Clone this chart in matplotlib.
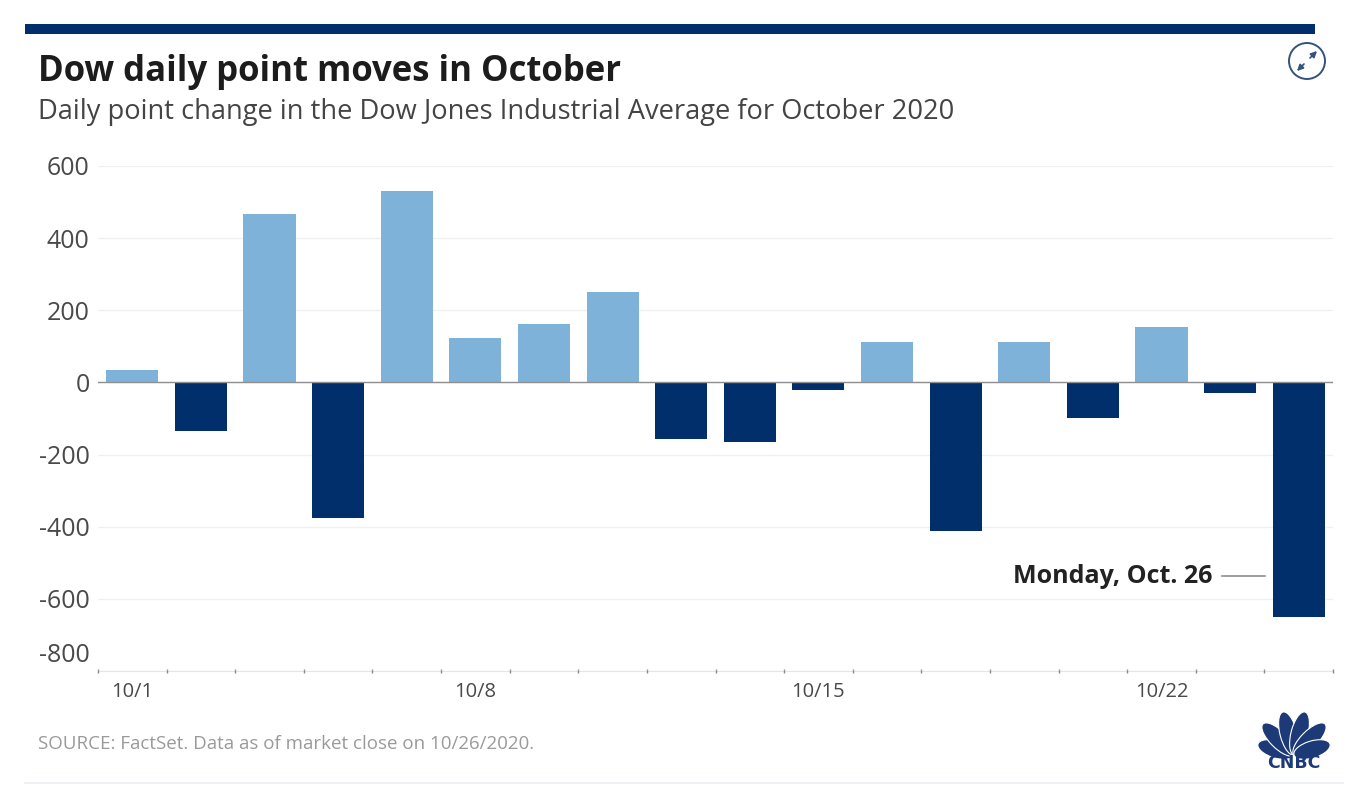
import math
import matplotlib
matplotlib.use('Agg')
import matplotlib.pyplot as plt
from matplotlib.patches import Circle, Ellipse, Rectangle
from matplotlib.transforms import ScaledTranslation

days = ['10/1', '10/2', '10/5', '10/6', '10/7', '10/8', '10/9', '10/12', '10/13',
        '10/14', '10/15', '10/16', '10/19', '10/20', '10/21', '10/22', '10/23', '10/26']
changes = [35.2, -134.1, 465.8, -375.9, 530.7, 122.1, 161.4, 250.6, -157.7,
           -165.8, -19.8, 112.1, -410.9, 113.4, -98.0, 152.8, -28.1, -650.2]
y_ticks = [600, 400, 200, 0, -200, -400, -600, -800]
y_labels = ['600', '400', '200', '0', '-200', '-400', '-600', '-800']
x_label_pos = [0, 5, 10, 15]
x_label_text = ['10/1', '10/8', '10/15', '10/22']

UP = '#7fb2d8'
DOWN = '#002f6c'
W, H = 1349, 797

plt.rcParams['font.family'] = ['Open Sans', 'DejaVu Sans']
fig = plt.figure(figsize=(W / 100, H / 100), dpi=100)

# overlay in pixel coordinates for the frame pieces
bg = fig.add_axes([0, 0, 1, 1])
bg.set_xlim(0, W)
bg.set_ylim(H, 0)
bg.axis('off')
bg.add_patch(Rectangle((25, 24), 1290, 10, color=DOWN, lw=0))
bg.plot([25, 1343], [783, 783], color='#eef1f4', lw=1.5)
bg.text(38, 72, 'Dow daily point moves in October', fontsize=25, fontweight='bold',
        color='#1c1c1c', va='center')
bg.text(38, 112, 'Daily point change in the Dow Jones Industrial Average for October 2020',
        fontsize=19.6, color='#444444', va='center')
bg.text(38, 744, 'SOURCE: FactSet. Data as of market close on 10/26/2020.',
        fontsize=13.5, color='#9a9a9a', va='center')

# expand icon
bg.add_patch(Circle((1307, 61), 18, fill=False, ec='#33527f', lw=1.4))
bg.annotate('', xy=(1297, 71), xytext=(1304, 64),
            arrowprops=dict(arrowstyle='-|>', color='#33527f', lw=1.2, mutation_scale=9, shrinkA=0, shrinkB=0))
bg.annotate('', xy=(1317, 51), xytext=(1310, 58),
            arrowprops=dict(arrowstyle='-|>', color='#33527f', lw=1.2, mutation_scale=9, shrinkA=0, shrinkB=0))

# peacock logo, feathers fan out from the base
base_x, base_y = 1294, 755
for tip_x, tip_y in [(1258, 744), (1263, 724), (1283, 712), (1305, 712), (1325, 724), (1330, 744)]:
    cx, cy = (tip_x + base_x) / 2, (tip_y + base_y) / 2
    length = math.hypot(tip_x - base_x, tip_y - base_y)
    ang = math.degrees(math.atan2(tip_y - base_y, tip_x - base_x))
    bg.add_patch(Ellipse((cx, cy), length, 17, angle=ang, fc='#1c3a78', ec='white', lw=0.8))
bg.text(1294, 763, 'CNBC', fontsize=12.5, fontweight='bold', color='#1c3a78',
        ha='center', va='center', family='DejaVu Sans')

ax = fig.add_axes([98 / W, 1 - 671 / H, (1333 - 98) / W, (671 - 166) / H])
ax.patch.set_alpha(0)
xs = list(range(len(days)))
colors = [UP if v > 0 else DOWN for v in changes]
ax.bar(xs, changes, width=0.76, color=colors, zorder=3)
ax.set_xlim(-0.5, len(days) - 0.5)
ax.set_ylim(-800, 600)

ax.set_yticks(y_ticks, y_labels)
ax.tick_params(axis='y', length=0, pad=6, labelsize=18, labelcolor='#4a4a4a')
# the bottom label sits above its own line in the original
last = ax.get_yticklabels()[-1]
last.set_transform(last.get_transform() + ScaledTranslation(0, 18 / 100, fig.dpi_scale_trans))
ax.grid(axis='y', color='#f0f0f0', lw=1, zorder=0)
ax.axhline(0, color='#8f8f8f', lw=1, zorder=4)

# ticks sit on band edges, labels at band centres
ax.set_xticks([x - 0.5 for x in range(len(days) + 1)])
ax.set_xticklabels([])
ax.tick_params(axis='x', length=3, width=1, color='#8a8a8a', direction='inout')
for i, t in zip(x_label_pos, x_label_text):
    ax.text(i, -858, t, ha='center', va='center', fontsize=14.5, color='#4a4a4a')

for side in ['top', 'left', 'right']:
    ax.spines[side].set_visible(False)
ax.spines['bottom'].set_color('#e6e6e6')
ax.spines['bottom'].set_zorder(1)

ax.text(15.74, -539, 'Monday, Oct. 26', ha='right', va='center', fontsize=18,
        fontweight='bold', color='#222222', zorder=5)
ax.plot([15.88, 16.51], [-536, -536], color='#8f8f8f', lw=1.2, zorder=5)

fig.savefig('out.png', dpi=100)
